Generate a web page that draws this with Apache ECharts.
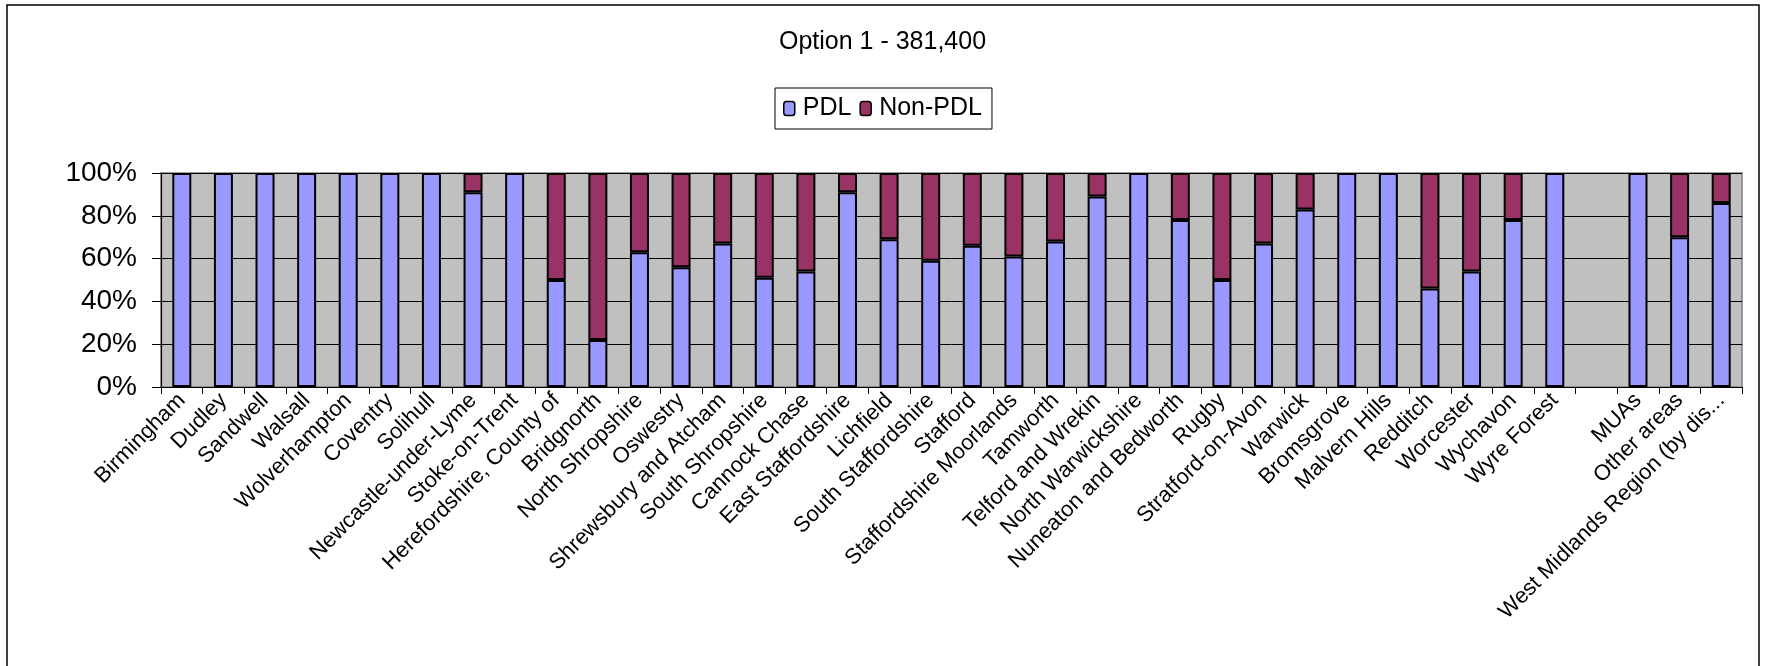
<!DOCTYPE html>
<html>
<head>
<meta charset="utf-8">
<script src="https://cdn.jsdelivr.net/npm/echarts@6/dist/echarts.min.js"></script>
<style>
html,body{margin:0;padding:0;background:#fff;}
#c{width:1765px;height:666px;}
</style>
</head>
<body>
<div id="c"></div>
<script>
const categories = ["Birmingham","Dudley","Sandwell","Walsall","Wolverhampton","Coventry","Solihull","Newcastle-under-Lyme","Stoke-on-Trent","Herefordshire, County of","Bridgnorth","North Shropshire","Oswestry","Shrewsbury and Atcham","South Shropshire","Cannock Chase","East Staffordshire","Lichfield","South Staffordshire","Stafford","Staffordshire Moorlands","Tamworth","Telford and Wrekin","North Warwickshire","Nuneaton and Bedworth","Rugby","Stratford-on-Avon","Warwick","Bromsgrove","Malvern Hills","Redditch","Worcester","Wychavon","Wyre Forest","","MUAs","Other areas","West Midlands Region (by dis..."];
const pdl = [100,100,100,100,100,100,100,91,100,50,22,63,56,67,51,54,91,69,59,66,61,68,89,100,78,50,67,83,100,100,46,54,78,100,null,100,70,86];
const nonPdl = [null,null,null,null,null,null,null,9,null,50,78,37,44,33,49,46,9,31,41,34,39,32,11,null,22,50,33,17,null,null,54,46,22,null,null,null,30,14];
const yTicks = [0,20,40,60,80,100];

const chart = echarts.init(document.getElementById('c'));
const font = "Liberation Sans, Arial, sans-serif";
chart.setOption({
  animation:false,
  backgroundColor:'#fff',
  graphic:[{type:'rect',shape:{x:7,y:5,width:1752,height:720},style:{fill:'none',stroke:'#000',lineWidth:1.5},z:-10}],
  title:{text:'Option 1 - 381,400',left:'center',top:25,textStyle:{fontFamily:font,fontSize:25,fontWeight:'normal',color:'#000'}},
  legend:{
    left:'center',top:88,
    data:['PDL','Non-PDL'],
    borderColor:'#000',borderWidth:1,padding:[8,10,8,8],
    itemWidth:11,itemHeight:14,itemGap:8,
    textStyle:{fontFamily:font,fontSize:25,color:'#000',padding:[0,0,0,3]},
    itemStyle:{borderColor:'#000',borderWidth:1.5}
  },
  grid:{left:161,right:23,top:173,bottom:279,show:true,backgroundColor:'#C0C0C0',borderColor:'#808080',borderWidth:1.5},
  xAxis:{
    type:'category',data:categories,
    axisLine:{lineStyle:{color:'#000',width:1.2}},
    axisTick:{show:true,length:7,lineStyle:{color:'#000'}},
    axisLabel:{rotate:45,interval:0,margin:10,fontFamily:font,fontSize:22,color:'#000'}
  },
  yAxis:{
    type:'value',min:0,max:100,interval:20,
    axisLine:{show:true,lineStyle:{color:'#000',width:1.2}},
    axisTick:{show:true,length:9,lineStyle:{color:'#000'}},
    splitLine:{show:true,lineStyle:{color:'#000',width:1}},
    axisLabel:{margin:24,fontFamily:font,fontSize:28,color:'#000',formatter:v=>v+'%'}
  },
  series:[
    {name:'PDL',type:'bar',stack:'a',data:pdl,barWidth:19,itemStyle:{color:'#9999FF',borderColor:'#000',borderWidth:2}},
    {name:'Non-PDL',type:'bar',stack:'a',data:nonPdl,barWidth:19,itemStyle:{color:'#993366',borderColor:'#000',borderWidth:2}}
  ]
});
</script>
</body>
</html>
